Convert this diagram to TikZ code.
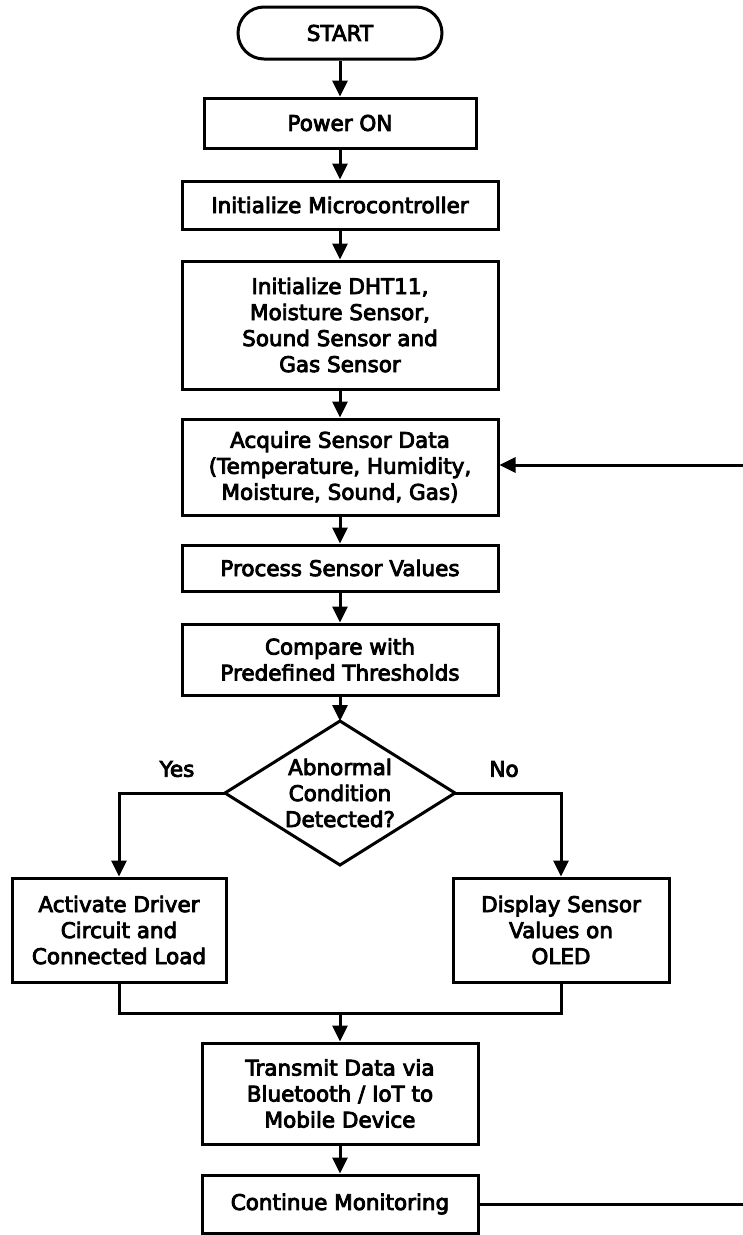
\documentclass[tikz,border=0pt]{standalone}
\usepackage{fontspec}
\newfontfamily\nodefont{DejaVu Sans}[FakeBold=4]
\usetikzlibrary{arrows.meta}
\begin{document}
\begin{tikzpicture}[x=1pt,y=-1pt,
  every node/.style={font=\nodefont\fontsize{21.5}{26}\selectfont, text=black},
  box/.style={draw, line width=3pt, rectangle, align=center, inner sep=2pt},
  term/.style={box, rounded corners=26pt},
  arr/.style={line width=3pt, -{Triangle[length=16pt,width=15pt]}},
  conn/.style={line width=3pt}
]
\useasboundingbox (0,0) rectangle (743,1235);
\fill[white] (0,0) rectangle (743,1235);

\node[term, minimum width=204pt, minimum height=52pt] (start) at (340,33) {START};
\node[box, minimum width=272pt, minimum height=50pt] (power) at (340,123) {Power ON};
\node[box, minimum width=316pt, minimum height=48pt] (init) at (340,205) {Initialize Microcontroller};
\node[box, minimum width=316pt, minimum height=128pt] (dht) at (340,325) {Initialize DHT11,\\Moisture Sensor,\\Sound Sensor and\\Gas Sensor};
\node[box, minimum width=316pt, minimum height=96pt] (acq) at (340,467) {Acquire Sensor Data\\(Temperature, Humidity,\\Moisture, Sound, Gas)};
\node[box, minimum width=316pt, minimum height=46pt] (proc) at (340,568) {Process Sensor Values};
\node[box, minimum width=316pt, minimum height=71pt] (cmp) at (340,659.5) {Compare with\\Predefined Thresholds};

\draw[line width=3pt, line join=miter] (340,721) coordinate (dtop) -- (455,793) coordinate (dright) -- (340,865) coordinate (dbot) -- (225,793) coordinate (dleft) -- cycle;
\node[align=center] (dec) at (340,793) {Abnormal\\Condition\\Detected?};

\node (yes) at (177,769) {Yes};
\node (no) at (504,769) {No};

\node[box, minimum width=214pt, minimum height=104pt] (act) at (119,930) {Activate Driver\\Circuit and\\Connected Load};
\node[box, minimum width=216pt, minimum height=104pt] (disp) at (561,930) {Display Sensor\\Values on\\OLED};

\coordinate (mj) at (340,1013);
\node[box, minimum width=276pt, minimum height=101pt] (tx) at (340,1093.5) {Transmit Data via\\Bluetooth / IoT to\\Mobile Device};
\node[box, minimum width=276pt, minimum height=58pt] (cont) at (340,1204) {Continue Monitoring};

\coordinate (rb) at (748,1204);
\coordinate (rt) at (748,465);

\draw[arr] (start) -- (power);
\draw[arr] (power) -- (init);
\draw[arr] (init) -- (dht);
\draw[arr] (dht) -- (acq);
\draw[arr] (acq) -- (proc);
\draw[arr] (proc) -- (cmp);
\draw[arr] (cmp.south) -- (dtop);
\draw[arr] (dleft) -| (act.north);
\draw[arr] (dright) -| (disp.north);
\draw[conn] (act.south) |- (mj) -| (disp.south);
\draw[arr] (mj) -- (tx.north);
\draw[arr] (tx) -- (cont);
\draw[conn] (cont.east) -- (cont.east -| rb);
\draw[arr] (rt) -- (rt -| acq.east);
\end{tikzpicture}
\end{document}
